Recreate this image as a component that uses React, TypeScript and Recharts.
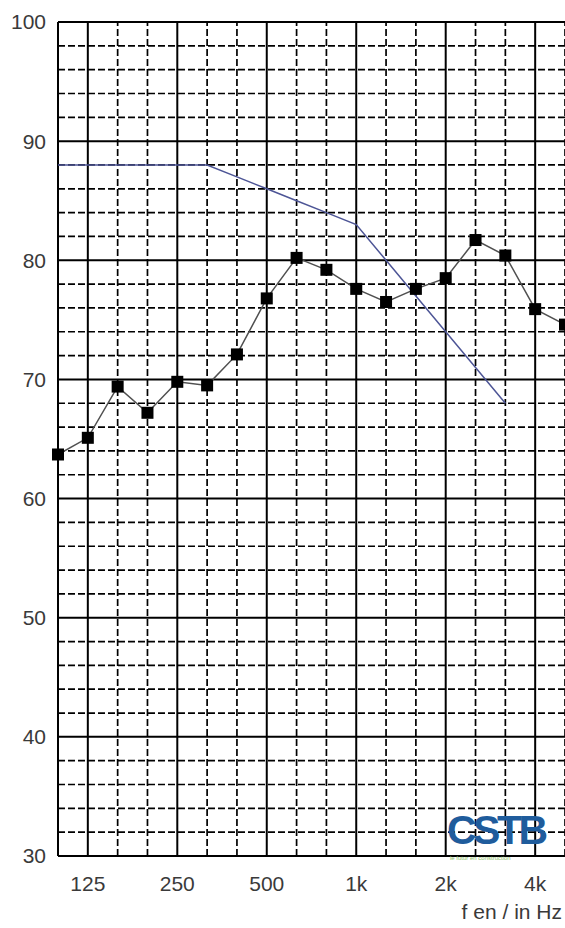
import { LineChart, Line, XAxis, YAxis, ReferenceLine } from "recharts";

// third-octave bands, 100 Hz .. 5 kHz
const bands = ["100", "125", "160", "200", "250", "315", "400", "500", "630", "800", "1000", "1250", "1600", "2000", "2500", "3150", "4000", "5000"];
const measured = [63.7, 65.1, 69.4, 67.2, 69.8, 69.5, 72.1, 76.8, 80.2, 79.2, 77.6, 76.5, 77.6, 78.5, 81.7, 80.4, 75.9, 74.6];
const referenceCurve = [88, 88, 88, 88, 88, 88, 87, 86, 85, 84, 83, 80, 77, 74, 71, 68];

const octaveBands = ["125", "250", "500", "1000", "2000", "4000"];
const octaveLabels = ["125", "250", "500", "1k", "2k", "4k"];
const levelTicks = [30, 40, 50, 60, 70, 80, 90, 100];
const minorLevels = [32, 34, 36, 38, 42, 44, 46, 48, 52, 54, 56, 58, 62, 64, 66, 68, 72, 74, 76, 78, 82, 84, 86, 88, 92, 94, 96, 98];

const data = bands.map((f, i) => ({
  idx: i,
  freq: f,
  measured: measured[i],
  reference: i < referenceCurve.length ? referenceCurve[i] : null,
}));

const octaveIdx = octaveBands.map((f) => bands.indexOf(f));
const minorIdx = bands.map((_, i) => i).filter((i) => i > 0 && !octaveIdx.includes(i));

const font = "'Liberation Sans', Arial, sans-serif";
const textColor = "#3a3a3a";

const SquareDot = (props: any) => {
  const { cx, cy, index } = props;
  if (cx == null || cy == null) return null;
  return <rect key={`sq-${index}`} x={cx - 6} y={cy - 6} width={12} height={12} fill="#000" />;
};

export default function App() {
  return (
    <div style={{ position: "absolute", left: 0, top: 0, width: 565, height: 928, background: "#fff", fontFamily: font }}>
      <LineChart width={565} height={928} data={data} margin={{ top: 22, right: 0, bottom: 0, left: 0 }}>
        <XAxis
          type="number"
          dataKey="idx"
          domain={[0, 17]}
          ticks={octaveIdx}
          tickFormatter={(v: number) => octaveLabels[octaveIdx.indexOf(v)] ?? ""}
          axisLine={false}
          tickLine={false}
          tickSize={0}
          tickMargin={20}
          height={72}
          tick={{ fill: textColor, fontSize: 21, fontFamily: font }}
        />
        <YAxis
          type="number"
          domain={[30, 100]}
          ticks={levelTicks}
          interval={0}
          axisLine={false}
          tickLine={false}
          tickSize={0}
          tickMargin={12}
          width={58}
          tick={{ fill: textColor, fontSize: 21, fontFamily: font }}
        />
        {minorLevels.map((v) => (
          <ReferenceLine key={`h${v}`} y={v} stroke="#000" strokeWidth={1.7} strokeDasharray="7 3" />
        ))}
        {minorIdx.map((i) => (
          <ReferenceLine key={`v${i}`} x={i} stroke="#000" strokeWidth={1.7} strokeDasharray="7 3" />
        ))}
        {levelTicks.map((v) => (
          <ReferenceLine key={`H${v}`} y={v} stroke="#000" strokeWidth={2} />
        ))}
        {[0, ...octaveIdx].map((i) => (
          <ReferenceLine key={`V${i}`} x={i} stroke="#000" strokeWidth={2} />
        ))}
        <Line
          dataKey="reference"
          stroke="#4d5596"
          strokeWidth={1.5}
          dot={false}
          connectNulls={false}
          isAnimationActive={false}
        />
        <Line
          dataKey="measured"
          stroke="#505050"
          strokeWidth={1.5}
          dot={SquareDot}
          activeDot={false}
          isAnimationActive={false}
        />
      </LineChart>
      <div
        style={{
          position: "absolute",
          left: 447,
          top: 813,
          fontSize: 41,
          lineHeight: 0.85,
          fontWeight: 700,
          letterSpacing: -3.5,
          color: "#1f5c9c",
          fontFamily: font,
        }}
      >
        CSTB
      </div>
      <div
        style={{
          position: "absolute",
          left: 450,
          top: 855,
          fontSize: 6,
          lineHeight: 1,
          color: "#8cbf6a",
          fontFamily: font,
        }}
      >
        le futur en construction
      </div>
      <div
        style={{
          position: "absolute",
          right: 3,
          top: 901,
          fontSize: 21,
          lineHeight: 1,
          color: textColor,
          fontFamily: font,
        }}
      >
        f en / in Hz
      </div>
    </div>
  );
}
